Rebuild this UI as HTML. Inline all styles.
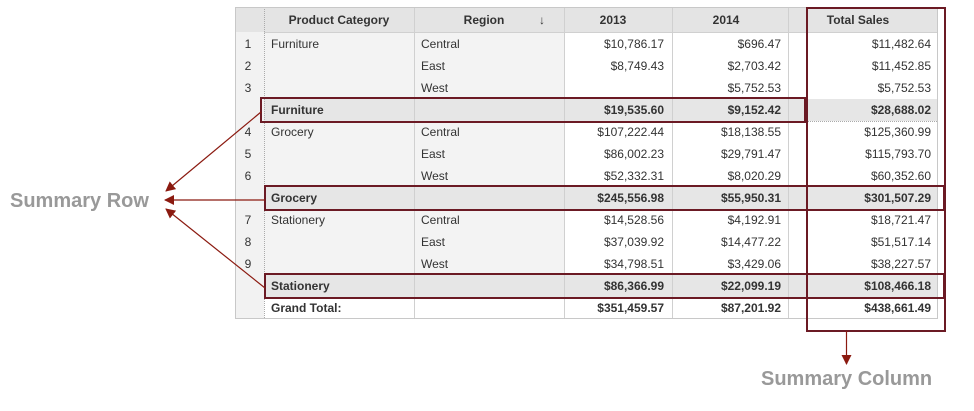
<!DOCTYPE html>
<html><head><meta charset="utf-8"><style>
html,body{margin:0;padding:0;background:#fff;}
svg{display:block;font-family:"Liberation Sans",Arial,sans-serif;}
text{font-size:12px;fill:#333;}
.b{font-weight:bold;}
</style></head><body>
<svg width="974" height="411" viewBox="0 0 974 411">
<defs><marker id="ah" viewBox="0 0 10 10" refX="9" refY="5" markerWidth="10" markerHeight="10" markerUnits="userSpaceOnUse" orient="auto"><path d="M0,0L10,5L0,10z" fill="#8b1a10"/></marker></defs>
<rect x="235" y="7" width="703" height="312" fill="#fff"/>
<rect x="235" y="7" width="29" height="312" fill="#f2f2f2"/>
<rect x="264" y="33" width="300" height="286" fill="#f3f3f3"/>
<rect x="235" y="7" width="703" height="25" fill="#e4e4e4"/>
<rect x="264" y="99" width="674" height="22" fill="#e6e6e6"/>
<rect x="264" y="187" width="674" height="22" fill="#e6e6e6"/>
<rect x="264" y="275" width="674" height="22" fill="#e6e6e6"/>
<rect x="264" y="297" width="674" height="22" fill="#fff"/>
<g stroke="#d0d0d0" stroke-width="1">
<line x1="414.5" y1="7" x2="414.5" y2="319"/>
<line x1="564.5" y1="7" x2="564.5" y2="319"/>
<line x1="672.5" y1="7" x2="672.5" y2="319"/>
<line x1="788.5" y1="7" x2="788.5" y2="319"/>
<line x1="264" y1="32.5" x2="938" y2="32.5"/>
</g>
<line x1="264.5" y1="7" x2="264.5" y2="319" stroke="#aaa" stroke-dasharray="1,1"/>
<g stroke="#aaa" stroke-dasharray="1,1">
<line x1="264" y1="121.5" x2="938" y2="121.5"/>
<line x1="264" y1="209.5" x2="938" y2="209.5"/>
<line x1="264" y1="297.5" x2="938" y2="297.5"/>
</g>
<rect x="235.5" y="7.5" width="702" height="311" fill="none" stroke="#c8c8c8"/>
<g class="b">
<text x="339" y="24" text-anchor="middle" class="b">Product Category</text>
<text x="484" y="24" text-anchor="middle" class="b">Region</text>
<text x="613" y="24" text-anchor="middle" class="b">2013</text>
<text x="726" y="24" text-anchor="middle" class="b">2014</text>
<text x="858" y="24" text-anchor="middle" class="b">Total Sales</text>
</g>
<text x="542" y="24" text-anchor="middle" class="b">↓</text>
<g>
<text x="248" y="48" text-anchor="middle">1</text><text x="271" y="48">Furniture</text><text x="421" y="48">Central</text><text x="664" y="48" text-anchor="end">$10,786.17</text><text x="781" y="48" text-anchor="end">$696.47</text><text x="931" y="48" text-anchor="end">$11,482.64</text>
<text x="248" y="70" text-anchor="middle">2</text><text x="421" y="70">East</text><text x="664" y="70" text-anchor="end">$8,749.43</text><text x="781" y="70" text-anchor="end">$2,703.42</text><text x="931" y="70" text-anchor="end">$11,452.85</text>
<text x="248" y="92" text-anchor="middle">3</text><text x="421" y="92">West</text><text x="781" y="92" text-anchor="end">$5,752.53</text><text x="931" y="92" text-anchor="end">$5,752.53</text>
<text x="271" y="114" class="b">Furniture</text><text x="664" y="114" text-anchor="end" class="b">$19,535.60</text><text x="781" y="114" text-anchor="end" class="b">$9,152.42</text><text x="931" y="114" text-anchor="end" class="b">$28,688.02</text>
<text x="248" y="136" text-anchor="middle">4</text><text x="271" y="136">Grocery</text><text x="421" y="136">Central</text><text x="664" y="136" text-anchor="end">$107,222.44</text><text x="781" y="136" text-anchor="end">$18,138.55</text><text x="931" y="136" text-anchor="end">$125,360.99</text>
<text x="248" y="158" text-anchor="middle">5</text><text x="421" y="158">East</text><text x="664" y="158" text-anchor="end">$86,002.23</text><text x="781" y="158" text-anchor="end">$29,791.47</text><text x="931" y="158" text-anchor="end">$115,793.70</text>
<text x="248" y="180" text-anchor="middle">6</text><text x="421" y="180">West</text><text x="664" y="180" text-anchor="end">$52,332.31</text><text x="781" y="180" text-anchor="end">$8,020.29</text><text x="931" y="180" text-anchor="end">$60,352.60</text>
<text x="271" y="202" class="b">Grocery</text><text x="664" y="202" text-anchor="end" class="b">$245,556.98</text><text x="781" y="202" text-anchor="end" class="b">$55,950.31</text><text x="931" y="202" text-anchor="end" class="b">$301,507.29</text>
<text x="248" y="224" text-anchor="middle">7</text><text x="271" y="224">Stationery</text><text x="421" y="224">Central</text><text x="664" y="224" text-anchor="end">$14,528.56</text><text x="781" y="224" text-anchor="end">$4,192.91</text><text x="931" y="224" text-anchor="end">$18,721.47</text>
<text x="248" y="246" text-anchor="middle">8</text><text x="421" y="246">East</text><text x="664" y="246" text-anchor="end">$37,039.92</text><text x="781" y="246" text-anchor="end">$14,477.22</text><text x="931" y="246" text-anchor="end">$51,517.14</text>
<text x="248" y="268" text-anchor="middle">9</text><text x="421" y="268">West</text><text x="664" y="268" text-anchor="end">$34,798.51</text><text x="781" y="268" text-anchor="end">$3,429.06</text><text x="931" y="268" text-anchor="end">$38,227.57</text>
<text x="271" y="290" class="b">Stationery</text><text x="664" y="290" text-anchor="end" class="b">$86,366.99</text><text x="781" y="290" text-anchor="end" class="b">$22,099.19</text><text x="931" y="290" text-anchor="end" class="b">$108,466.18</text>
<text x="271" y="312" class="b">Grand Total:</text><text x="664" y="312" text-anchor="end" class="b">$351,459.57</text><text x="781" y="312" text-anchor="end" class="b">$87,201.92</text><text x="931" y="312" text-anchor="end" class="b">$438,661.49</text>
</g>
<g fill="none" stroke="#6b1a24" stroke-width="2">
<rect x="261" y="98" width="544" height="24"/>
<rect x="265" y="186" width="679" height="24"/>
<rect x="265" y="274" width="679" height="24"/>
<rect x="807" y="8" width="138" height="323"/>
</g>
<g stroke="#8b1a10" stroke-width="1.2" fill="none">
<line x1="261" y1="112" x2="166" y2="191" marker-end="url(#ah)"/>
<line x1="265" y1="200" x2="165" y2="200" marker-end="url(#ah)"/>
<line x1="265" y1="288" x2="166" y2="209" marker-end="url(#ah)"/>
<line x1="846.5" y1="331" x2="846.5" y2="364" marker-end="url(#ah)"/>
</g>
<text x="10" y="207" style="font-size:20px;font-weight:bold;fill:#999">Summary Row</text>
<text x="761" y="385" style="font-size:20px;font-weight:bold;fill:#999">Summary Column</text>
</svg>
</body></html>
